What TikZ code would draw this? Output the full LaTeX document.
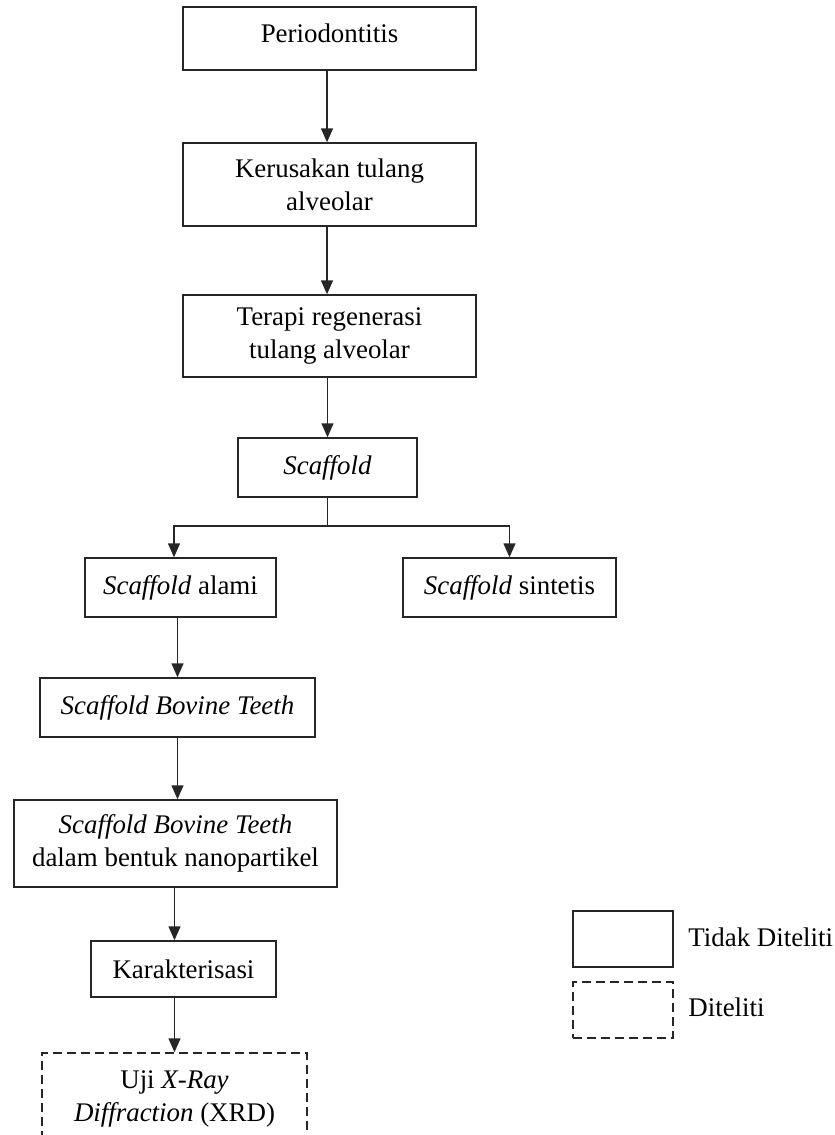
\documentclass[tikz,border=0pt]{standalone}
\usepackage{fontspec}
\setmainfont{Liberation Serif}
\usetikzlibrary{arrows.meta,calc}
\begin{document}
\begin{tikzpicture}[x=0.5pt,y=-0.5pt,
  every node/.style={font=\fontsize{13.45}{16.5}\selectfont},
  box/.style={draw=black!85, line width=0.75pt, align=center, inner sep=0pt},
  dbox/.style={box, dash pattern=on 4.5pt off 2.5pt},
  arr/.style={draw=black!85, line width=0.75pt, -{Triangle[width=6pt,length=7pt]}},
  ln/.style={draw=black!85, line width=0.75pt}]
\useasboundingbox (0,0) rectangle (835,1135);
\clip (0,0) rectangle (835,1135);
\node[box, minimum width=146.5pt, minimum height=31.5pt] (b1) at (329.5,38.5) {\raisebox{5pt}{Periodontitis}};
\node[box, minimum width=146.5pt, minimum height=41.5pt] (b2) at (329.5,184.5) {Kerusakan tulang\\alveolar};
\node[box, minimum width=146.5pt, minimum height=41pt] (b3) at (329.5,336) {Terapi regenerasi\\tulang alveolar};
\node[box, minimum width=89.5pt, minimum height=29.5pt] (b4) at (327.5,467.5) {\textit{Scaffold}};
\node[box, minimum width=95.5pt, minimum height=29.5pt] (b5) at (180.5,587.5) {\textit{Scaffold} alami};
\node[box, minimum width=106.5pt, minimum height=29.5pt] (b6) at (509.5,587.5) {\textit{Scaffold} sintetis};
\node[box, minimum width=137.5pt, minimum height=29.5pt] (b7) at (177.5,707.5) {\textit{Scaffold Bovine Teeth}};
\node[box, minimum width=161.5pt, minimum height=43.5pt] (b8) at (175.5,843.5) {\textit{Scaffold Bovine Teeth}\\dalam bentuk nanopartikel};
\node[box, minimum width=92.5pt, minimum height=28pt] (b9) at (183.5,969) {Karakterisasi};
\node[dbox, minimum width=132.5pt, minimum height=46pt] (b10) at (174.5,1099) {Uji \textit{X-Ray}\\\textit{Diffraction} (XRD)};
\node[box, minimum width=50pt, minimum height=28pt] (l1) at (623,939) {};
\node[dbox, minimum width=50pt, minimum height=28pt] (l2) at (623,1010) {};
\node[anchor=west, inner sep=0pt] (t1) at (688,937) {Tidak Diteliti};
\node[anchor=west, inner sep=0pt] (t2) at (688,1007) {Diteliti};
\draw[arr] ([xshift=-1.25pt]b1.south) -- ([xshift=-1.25pt]b2.north);
\draw[arr] ([xshift=-1.25pt]b2.south) -- ([xshift=-1.25pt]b3.north);
\draw[arr] ([xshift=-1.25pt]b3.south) -- (b3.south -| b4.north) -- (b4.north);
\coordinate (br) at (327.5,526);
\draw[ln] (b4.south) -- (br);
\draw[arr] (br) -| ([xshift=-3.25pt]b5.north);
\draw[arr] (br) -| (b6.north);
\draw[arr] (b5.south -| b7.north) -- (b7.north);
\draw[arr] (b7.south) -- (b7.south |- b8.north);
\draw[arr] (b8.south -| b10.north) -- (b9.north -| b10.north);
\draw[arr] (b9.south -| b10.north) -- (b10.north);
\end{tikzpicture}
\end{document}
